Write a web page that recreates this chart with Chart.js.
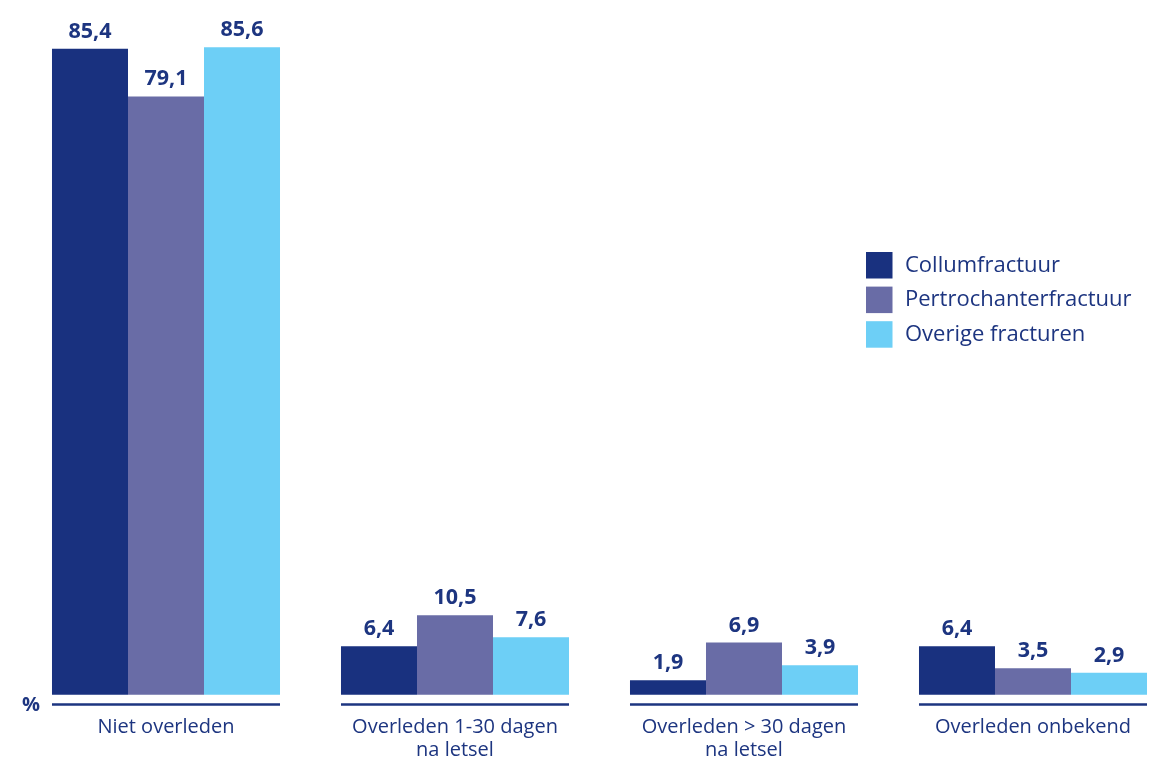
<!DOCTYPE html>
<html>
<head>
<meta charset="utf-8">
<script src="https://cdn.jsdelivr.net/npm/chart.js@4.4.0/dist/chart.umd.min.js"></script>
<style>
  html, body { margin: 0; padding: 0; background: #ffffff; overflow: hidden; }
  #wrap { position: relative; width: 1150px; height: 757px; overflow: hidden; }
  #c { position: absolute; left: 0; top: 0; }
</style>
</head>
<body>
<div id="wrap"><canvas id="c" width="1180" height="780"></canvas></div>
<script>
const categories = [
  ["Niet overleden"],
  ["Overleden 1-30 dagen", "na letsel"],
  ["Overleden > 30 dagen", "na letsel"],
  ["Overleden onbekend"]
];
const seriesNames = ["Collumfractuur", "Pertrochanterfractuur", "Overige fracturen"];
const collum = [85.4, 6.4, 1.9, 6.4];
const pertrochanter = [79.1, 10.5, 6.9, 3.5];
const overige = [85.6, 7.6, 3.9, 2.9];
const colors = ["#19317f", "#696ca6", "#6dcff6"];
const textColor = "#1d3580";
const FONT = "'Open Sans', 'Noto Sans', sans-serif";

const labelsPlugin = {
  id: 'valueLabels',
  afterDatasetsDraw(chart) {
    const ctx = chart.ctx;
    ctx.save();
    ctx.fillStyle = textColor;
    ctx.font = "bold 21.5px " + FONT;
    ctx.textAlign = 'center';
    ctx.textBaseline = 'alphabetic';
    chart.data.datasets.forEach((ds, i) => {
      const meta = chart.getDatasetMeta(i);
      meta.data.forEach((bar, j) => {
        const txt = ds.data[j].toFixed(1).replace('.', ',');
        ctx.fillText(txt, bar.x, bar.y - 11);
      });
    });
    ctx.restore();
  }
};

const axisPlugin = {
  id: 'groupAxis',
  afterDraw(chart) {
    const ctx = chart.ctx;
    const area = chart.chartArea;
    const first = chart.getDatasetMeta(0).data;
    const last = chart.getDatasetMeta(chart.data.datasets.length - 1).data;
    ctx.save();
    ctx.strokeStyle = textColor;
    ctx.lineWidth = 2.6;
    first.forEach((bar, j) => {
      const l = bar.x - bar.width / 2;
      const r = last[j].x + last[j].width / 2;
      ctx.beginPath();
      ctx.moveTo(l, area.bottom - 0.5);
      ctx.lineTo(r, area.bottom - 0.5);
      ctx.stroke();
    });
    // % unit label
    ctx.fillStyle = textColor;
    ctx.font = "bold 20px " + FONT;
    ctx.textAlign = 'center';
    ctx.textBaseline = 'middle';
    ctx.fillText('%', 31, area.bottom);
    // legend
    const bx = 866, by = 252, step = 34.6, size = 26.5;
    ctx.font = "22px " + FONT;
    ctx.textAlign = 'left';
    ctx.textBaseline = 'middle';
    chart.data.datasets.forEach((ds, i) => {
      const y = by + i * step;
      ctx.fillStyle = ds.backgroundColor;
      ctx.fillRect(bx, y, size, size);
      ctx.fillStyle = textColor;
      ctx.fillText(ds.label, 905, y + size / 2);
    });
    ctx.restore();
  }
};

new Chart(document.getElementById('c'), {
  type: 'bar',
  data: {
    labels: categories,
    datasets: [
      { label: seriesNames[0], data: collum, backgroundColor: colors[0] },
      { label: seriesNames[1], data: pertrochanter, backgroundColor: colors[1] },
      { label: seriesNames[2], data: overige, backgroundColor: colors[2] }
    ]
  },
  options: {
    responsive: false,
    animation: false,
    devicePixelRatio: 1,
    layout: { padding: { left: 21.5, right: 2.5, top: 14, bottom: 0 } },
    datasets: { bar: { categoryPercentage: 0.789, barPercentage: 1.0, borderWidth: 0 } },
    plugins: { legend: { display: false }, tooltip: { enabled: false } },
    scales: {
      x: {
        grid: { display: false, drawTicks: false },
        border: { display: false },
        ticks: {
          color: textColor,
          font: { family: FONT, size: 20, lineHeight: '23px' },
          padding: 11,
          maxRotation: 0,
          autoSkip: false
        },
        afterFit(scale) { scale.height = 75; }
      },
      y: {
        display: false,
        min: -1.36,
        max: 90
      }
    }
  },
  plugins: [labelsPlugin, axisPlugin]
});
</script>
</body>
</html>
